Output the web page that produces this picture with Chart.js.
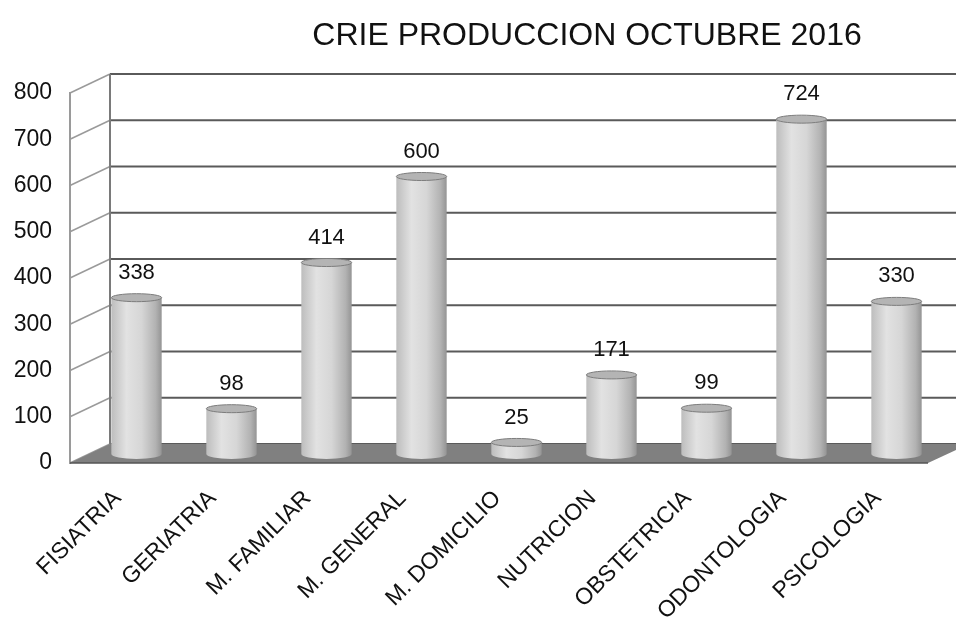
<!DOCTYPE html>
<html>
<head>
<meta charset="utf-8">
<script src="https://cdn.jsdelivr.net/npm/chart.js@4.4.0/dist/chart.umd.min.js"></script>
<style>
  html, body { margin: 0; padding: 0; background: #fff; }
  #wrap { width: 956px; height: 624px; }
</style>
</head>
<body>
<div id="wrap"><canvas id="chart" width="956" height="624"></canvas></div>
<script>
// chart data
const chartTitle = "CRIE PRODUCCION OCTUBRE 2016";
const categories = ["FISIATRIA", "GERIATRIA", "M. FAMILIAR", "M. GENERAL", "M. DOMICILIO",
  "NUTRICION", "OBSTETRICIA", "ODONTOLOGIA", "PSICOLOGIA"];
const production = [338, 98, 414, 600, 25, 171, 99, 724, 330];
const yMin = 0;
const yMax = 800;
const yStep = 100;

const FONT = '"Liberation Sans", Arial, sans-serif';
// fake 3d: back wall offset, bars sit half way
const DX = 40, DY = -19;
const BX = 19, BY = -9;
const BAR_PCT = 0.53;

const depthPlugin = {
  id: 'depth',
  beforeDatasetsDraw(chart) {
    const ctx = chart.ctx;
    const area = chart.chartArea;
    const y = chart.scales.y;
    const y0 = y.getPixelForValue(yMin);
    const yTop = y.getPixelForValue(yMax);
    ctx.save();

    // back wall grid lines + side diagonals
    y.ticks.forEach(t => {
      const py = y.getPixelForValue(t.value);
      ctx.strokeStyle = '#5a5a5a';
      ctx.lineWidth = 2;
      ctx.beginPath();
      ctx.moveTo(area.left + DX, py + DY);
      ctx.lineTo(chart.width, py + DY);
      ctx.stroke();
      ctx.strokeStyle = '#9a9a9a';
      ctx.lineWidth = 1.5;
      ctx.beginPath();
      ctx.moveTo(area.left, py);
      ctx.lineTo(area.left + DX, py + DY);
      ctx.stroke();
    });

    // back wall left edge
    ctx.strokeStyle = '#7a7a7a';
    ctx.lineWidth = 2;
    ctx.beginPath();
    ctx.moveTo(area.left + DX, yTop + DY);
    ctx.lineTo(area.left + DX, y0 + DY);
    ctx.stroke();

    // floor
    ctx.fillStyle = '#808080';
    ctx.beginPath();
    ctx.moveTo(area.left, y0);
    ctx.lineTo(area.left + DX, y0 + DY);
    ctx.lineTo(chart.width, y0 + DY);
    ctx.lineTo(chart.width, y0 + DY + 6);
    ctx.lineTo(area.right + 3, y0);
    ctx.closePath();
    ctx.fill();
    ctx.strokeStyle = '#555';
    ctx.lineWidth = 1.5;
    ctx.beginPath();
    ctx.moveTo(area.left, y0);
    ctx.lineTo(area.right + 3, y0);
    ctx.stroke();

    ctx.restore();

    // move the bars half way back
    ctx.save();
    ctx.translate(BX, BY);
    chart.getDatasetMeta(0).data.forEach(el => {
      ctx.fillStyle = el.options.backgroundColor;
      ctx.beginPath();
      ctx.ellipse(el.x, el.base, el.width / 2, 5, 0, 0, Math.PI);
      ctx.fill();
    });
  },
  afterDatasetsDraw(chart) {
    const ctx = chart.ctx;
    // cylinder caps
    chart.getDatasetMeta(0).data.forEach(el => {
      ctx.fillStyle = '#b4b4b4';
      ctx.strokeStyle = '#7d7d7d';
      ctx.lineWidth = 1;
      ctx.beginPath();
      ctx.ellipse(el.x, el.y, el.width / 2, 4, 0, 0, Math.PI * 2);
      ctx.fill();
      ctx.stroke();
    });
    ctx.restore();

    // value labels
    ctx.save();
    ctx.fillStyle = '#111';
    ctx.font = '22px ' + FONT;
    ctx.textAlign = 'center';
    ctx.textBaseline = 'middle';
    chart.getDatasetMeta(0).data.forEach((el, i) => {
      ctx.fillText(String(production[i]), el.x + BX, el.y + BY - 25);
    });
    ctx.restore();
  },
  afterDraw(chart) {
    const ctx = chart.ctx;
    ctx.save();
    ctx.fillStyle = '#111';
    ctx.font = '32px ' + FONT;
    ctx.textAlign = 'center';
    ctx.textBaseline = 'middle';
    ctx.fillText(chartTitle, 587, 36);
    ctx.restore();
  }
};

function barFill(c) {
  const xs = c.chart.scales && c.chart.scales.x;
  if (!xs || c.type !== 'data') return '#d4d4d4';
  const cx = xs.getPixelForValue(c.dataIndex);
  const w = xs.width / categories.length * BAR_PCT;
  if (!isFinite(cx) || !isFinite(w) || w <= 0) return '#d4d4d4';
  const g = c.chart.ctx.createLinearGradient(cx - w / 2, 0, cx + w / 2, 0);
  g.addColorStop(0, '#bdbdbd');
  g.addColorStop(0.3, '#e2e2e2');
  g.addColorStop(0.6, '#d6d6d6');
  g.addColorStop(0.88, '#b2b2b2');
  g.addColorStop(1, '#949494');
  return g;
}

const ctx = document.getElementById('chart').getContext('2d');
new Chart(ctx, {
  type: 'bar',
  data: {
    labels: categories,
    datasets: [{
      data: production,
      backgroundColor: barFill,
      borderWidth: 0,
      barPercentage: BAR_PCT,
      categoryPercentage: 1
    }]
  },
  options: {
    responsive: false,
    animation: false,
    layout: { padding: { top: 93, right: 31, left: 0, bottom: 0 } },
    plugins: {
      legend: { display: false },
      tooltip: { enabled: false },
      title: { display: false }
    },
    scales: {
      x: {
        grid: { display: false, drawTicks: false },
        border: { display: false },
        ticks: {
          color: '#111',
          font: { family: FONT, size: 23 },
          minRotation: 45,
          maxRotation: 45,
          padding: 22,
          autoSkip: false
        },
        afterFit(scale) { scale.height = 161; }
      },
      y: {
        min: yMin,
        max: yMax,
        grid: { display: false, drawTicks: false },
        border: { display: true, color: '#9a9a9a', width: 2 },
        ticks: {
          stepSize: yStep,
          color: '#111',
          font: { family: FONT, size: 23 },
          padding: 18
        },
        afterFit(scale) { scale.width = 70; }
      }
    }
  },
  plugins: [depthPlugin]
});
</script>
</body>
</html>
